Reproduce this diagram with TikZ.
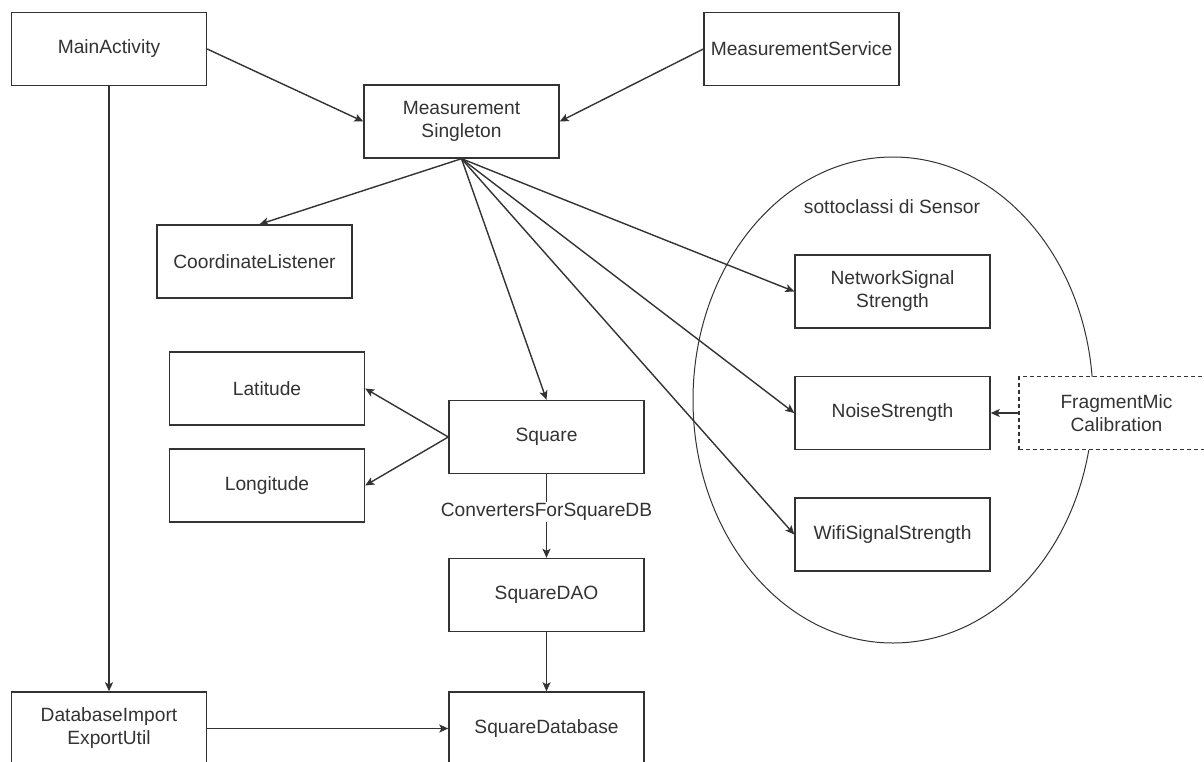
\documentclass[tikz,border=0pt]{standalone}
\usepackage{fontspec}
\setmainfont{Liberation Sans}
\usetikzlibrary{arrows.meta, shapes.geometric}

\begin{document}
\begin{tikzpicture}[x=1pt, y=-1pt]
\tikzset{
  every node/.style={font=\fontsize{19.2}{23}\selectfont, text=black!80},
  cls/.style={draw=black!80, line width=1.4pt, fill=white, minimum width=195pt,
    minimum height=73pt, align=center, inner sep=2pt},
  dep/.style={draw=black!80, line width=1.4pt, -{Stealth[length=9pt, width=8pt, inset=2pt]}}
}
\useasboundingbox (0,0) rectangle (1204,761);
\clip (0,0) rectangle (1204,761);

\node[ellipse, draw=black!80, line width=1pt, minimum width=400pt, minimum height=486pt] (sensors) at (893,400) {};
\node (sensorlbl) at (892,207) {sottoclassi di Sensor};

\node[cls] (main)    at (109,49)     {MainActivity};
\node[cls] (service) at (801.5,49)   {MeasurementService};
\node[cls] (single)  at (461.5,121.5) {Measurement\\Singleton};
\node[cls] (coord)   at (254.5,261.5) {CoordinateListener};
\node[cls] (lat)     at (267,388.5)  {Latitude};
\node[cls] (lon)     at (267,485.5)  {Longitude};
\node[cls] (square)  at (546.5,437)  {Square};
\node[cls] (dao)     at (546.5,595)  {SquareDAO};
\node[cls] (sqdb)    at (546.5,728.5) {SquareDatabase};
\node[cls] (dbutil)  at (109,728.5)  {DatabaseImport\\ExportUtil};
\node[cls] (net)     at (892.5,291.5) {NetworkSignal\\Strength};
\node[cls] (noise)   at (892.5,413)  {NoiseStrength};
\node[cls] (wifi)    at (892.5,534.5) {WifiSignalStrength};
\node[cls, dash pattern=on 4pt off 3pt, line width=1.1pt] (frag) at (1116.5,413) {FragmentMic\\Calibration};

\draw[dep] (main.east) -- (single.west);
\draw[dep] (service.west) -- (single.east);
\draw[dep] (main.south) -- (dbutil.north);

\draw[dep] (single.south) -- ([xshift=5pt]coord.north);
\draw[dep] (single.south) -- (square.north);
\draw[dep] (single.south) -- (net.west);
\draw[dep] (single.south) -- (noise.west);
\draw[dep] (single.south) -- (wifi.west);

\draw[dep] (square.west) -- (lat.east);
\draw[dep] (square.west) -- (lon.east);
\draw[dep] (square.south) -- node[pos=0.45, fill=white, inner sep=1pt] {ConvertersForSquareDB} (dao.north);
\draw[dep] (dao.south) -- (sqdb.north);
\draw[dep] (dbutil.east) -- (sqdb.west);
\draw[dep] (frag.west) -- (noise.east);
\end{tikzpicture}
\end{document}
